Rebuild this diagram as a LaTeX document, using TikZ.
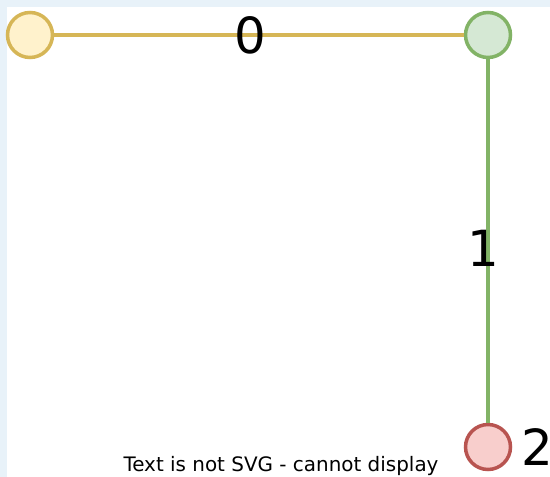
\documentclass[tikz,border=0pt]{standalone}
\usepackage{fontspec}
\setmainfont{DejaVu Sans}
\usepackage{xcolor}
\usepackage{tikz}
\usetikzlibrary{calc,positioning}
\definecolor{bgc}{HTML}{E8F2F9}
\definecolor{yelc}{HTML}{D6B656}
\definecolor{yelbg}{HTML}{FFF2CC}
\definecolor{grnc}{HTML}{82B366}
\definecolor{grnbg}{HTML}{D5E8D4}
\definecolor{redc}{HTML}{B85450}
\definecolor{redbg}{HTML}{F8CECC}
\tikzset{
  dot/.style={circle,line width=3.5bp,minimum size=45bp,inner sep=0pt},
  big/.style={font=\fontsize{50}{50}\selectfont,inner sep=0pt},
  ln/.style={line width=3.5bp}
}
\begin{document}
\begin{tikzpicture}[x=1bp,y=-1bp]
\useasboundingbox (0,0) rectangle (550,477);
\fill[bgc] (0,0) rectangle (550,477);
\fill[white] (7,7) rectangle (550,477);
\node[dot,draw=yelc,fill=yelbg] (a) at (30,35) {};
\node[dot,draw=grnc,fill=grnbg] (b) at (488,35) {};
\node[dot,draw=redc,fill=redbg] (c) at (488,447) {};
\draw[ln,yelc] (a) -- (b) node[big,text=black,pos=0.48]{0};
\draw[ln,grnc] (b) -- (c) node[big,text=black,pos=0.52,xshift=-5bp]{1};
\node[big,right=9bp of c.east,anchor=west] (lc) {2};
\node[font=\fontsize{20}{20}\selectfont] (note) at (281,466) {Text is not SVG - cannot display};
\end{tikzpicture}
\end{document}
